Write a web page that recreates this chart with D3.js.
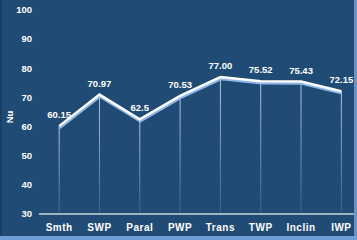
<!DOCTYPE html>
<html lang="en">
<head>
  <meta charset="UTF-8">
  <title>Nu chart</title>
  <script src="https://d3js.org/d3.v7.min.js"></script>
  <style>
    body { margin: 0; background: #1f4b75; }
    svg text { font-family: "Liberation Sans", Arial, sans-serif; font-weight: bold; fill: #fff; }
  </style>
</head>
<body>
  <script>
    // data
    const categories = ["Smth", "SWP", "Paral", "PWP", "Trans", "TWP", "Inclin", "IWP"];
    const nuValues = [60.15, 70.97, 62.5, 70.53, 77.00, 75.52, 75.43, 72.15];
    const valueLabels = ["60.15", "70.97", "62.5", "70.53", "77.00", "75.52", "75.43", "72.15"];
    const yTicks = [30, 40, 50, 60, 70, 80, 90, 100];

    const width = 357, height = 240;

    const svg = d3.select("body").append("svg")
      .attr("width", width)
      .attr("height", height);

    // background + frame
    svg.append("rect").attr("width", width).attr("height", height).attr("fill", "#1f4b75");
    svg.append("rect").attr("x", 0).attr("y", 0).attr("width", 2).attr("height", height).attr("fill", "#1a3f64");
    svg.append("rect").attr("x", 354).attr("y", 0).attr("width", 3).attr("height", height).attr("fill", "#6a93c4");
    svg.append("rect").attr("x", 0).attr("y", 236).attr("width", width).attr("height", 4).attr("fill", "#6f9fd6");

    const x = d3.scaleBand().domain(categories).range([39, 361.5]);
    const y = d3.scaleLinear().domain([30, 100]).range([214, 10]);
    const cx = d => x(d) + x.bandwidth() / 2;

    // gradient for drop lines
    const defs = svg.append("defs");
    const grad = defs.append("linearGradient")
      .attr("id", "drop").attr("x1", 0).attr("y1", 0).attr("x2", 0).attr("y2", 1);
    grad.append("stop").attr("offset", "0%").attr("stop-color", "#c8d8ea").attr("stop-opacity", 0.9);
    grad.append("stop").attr("offset", "100%").attr("stop-color", "#c8d8ea").attr("stop-opacity", 0.15);

    // y tick labels
    svg.append("g").selectAll("text")
      .data(yTicks).enter().append("text")
      .attr("x", 32)
      .attr("y", d => y(d))
      .attr("dy", "0.35em")
      .attr("text-anchor", "end")
      .style("font-size", "9.5px")
      .text(d => d);

    // y title
    svg.append("text")
      .attr("transform", "translate(13,117) rotate(-90)")
      .attr("text-anchor", "middle")
      .style("font-size", "9.5px")
      .text("Nu");

    // drop lines
    svg.append("g").selectAll("line")
      .data(nuValues).enter().append("rect")
      .attr("x", (d, i) => cx(categories[i]) - 0.5)
      .attr("y", d => y(d))
      .attr("width", 1)
      .attr("height", d => y(30) - y(d))
      .attr("fill", "url(#drop)");

    // x axis line
    svg.append("line")
      .attr("x1", 39).attr("x2", 354)
      .attr("y1", y(30)).attr("y2", y(30))
      .attr("stroke", "#c9d3df").attr("stroke-width", 1.5);

    // line with shadow
    const line = d3.line()
      .x((d, i) => cx(categories[i]))
      .y(d => y(d));

    svg.append("path")
      .datum(nuValues)
      .attr("d", line)
      .attr("transform", "translate(0.5,2)")
      .attr("fill", "none")
      .attr("stroke", "#8fb6e6")
      .attr("stroke-width", 2.5);

    svg.append("path")
      .datum(nuValues)
      .attr("d", line)
      .attr("fill", "none")
      .attr("stroke", "#ffffff")
      .attr("stroke-width", 2.5);

    // value labels
    svg.append("g").selectAll("text")
      .data(nuValues).enter().append("text")
      .attr("x", (d, i) => cx(categories[i]))
      .attr("y", d => y(d) - 8)
      .attr("text-anchor", "middle")
      .style("font-size", "9.5px")
      .text((d, i) => valueLabels[i]);

    // x labels
    svg.append("g").selectAll("text")
      .data(categories).enter().append("text")
      .attr("x", d => cx(d))
      .attr("y", 227)
      .attr("dy", "0.35em")
      .attr("text-anchor", "middle")
      .style("font-size", "10px")
      .style("letter-spacing", "0.5px")
      .text(d => d);
  </script>
</body>
</html>
